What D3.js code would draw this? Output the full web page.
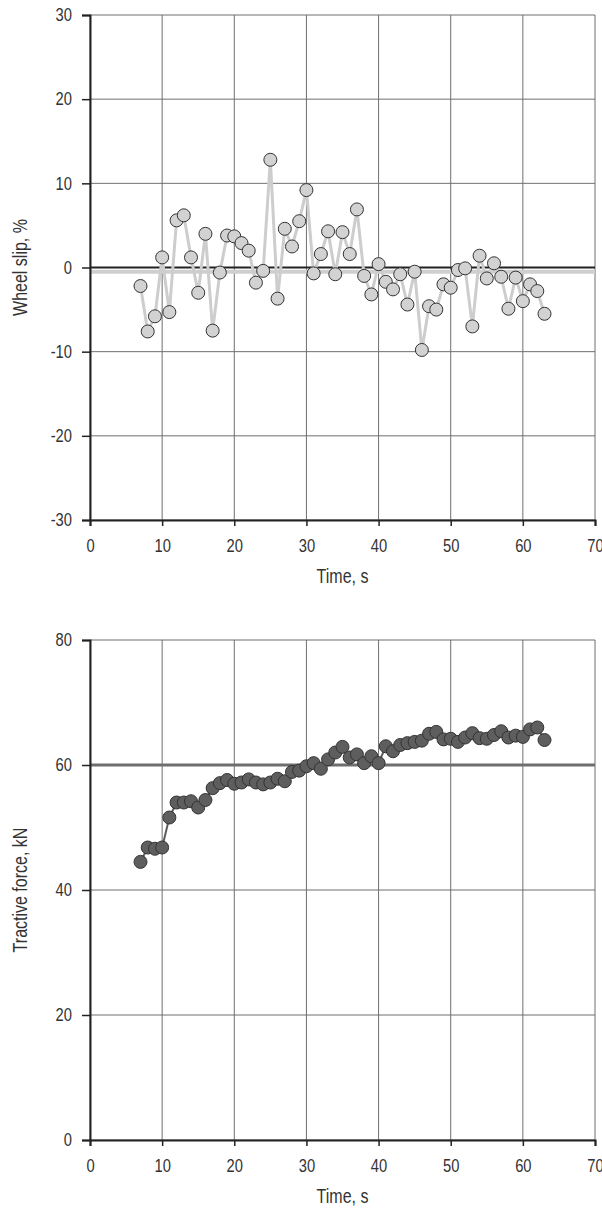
<!DOCTYPE html>
<html>
<head>
<meta charset="utf-8">
<script src="https://cdn.jsdelivr.net/npm/d3@7"></script>
<style>
  body { margin: 0; background: #fff; }
  svg { display: block; font-family: "Liberation Sans", Arial, sans-serif; }
</style>
</head>
<body>
<svg id="chart"></svg>
<script>
// time stamps, s
const time = d3.range(7, 64);

// wheel slip, %
const slip = [
  -2.2, -7.6, -5.8, 1.2, -5.3, 5.6, 6.2, 1.2, -3.0, 4.0,
  -7.5, -0.6, 3.8, 3.7, 2.9, 2.0, -1.8, -0.4, 12.8, -3.7,
  4.6, 2.5, 5.5, 9.2, -0.7, 1.6, 4.3, -0.8, 4.2, 1.6,
  6.9, -1.0, -3.2, 0.4, -1.7, -2.6, -0.8, -4.4, -0.5, -9.8,
  -4.6, -5.0, -2.0, -2.4, -0.3, -0.1, -7.0, 1.4, -1.3, 0.5,
  -1.1, -4.9, -1.2, -4.0, -2.0, -2.8, -5.5
];

// tractive force, kN
const force = [
  44.5, 46.8, 46.6, 46.8, 51.6, 54.0, 54.0, 54.2, 53.2, 54.4,
  56.3, 57.1, 57.6, 57.0, 57.2, 57.7, 57.2, 56.9, 57.2, 57.8,
  57.4, 58.9, 59.1, 59.8, 60.3, 59.4, 60.9, 62.0, 62.9, 61.2,
  61.7, 60.3, 61.4, 60.3, 63.0, 62.2, 63.2, 63.5, 63.7, 63.9,
  65.0, 65.3, 64.1, 64.2, 63.7, 64.4, 65.1, 64.3, 64.2, 64.8,
  65.4, 64.4, 64.7, 64.5, 65.7, 66.0, 64.0
];

const xTicks = [0, 10, 20, 30, 40, 50, 60, 70];
const slipTicks = [-30, -20, -10, 0, 10, 20, 30];
const forceTicks = [0, 20, 40, 60, 80];
const slipMean = -0.5;
const forceRef = 60;

const narrow = 0.82; // the source type is slightly condensed

const svg = d3.select("#chart").attr("width", 602).attr("height", 1210);

function drawPanel(cfg) {
  const left = 90, width = 505;
  const x = d3.scaleLinear().domain([0, 70]).range([left, left + width]);
  const y = d3.scaleLinear().domain(cfg.domain).range([cfg.bottom, cfg.top]);
  const g = svg.append("g");

  // grid
  g.selectAll(".vgrid").data(xTicks).join("line")
    .attr("x1", d => x(d)).attr("x2", d => x(d))
    .attr("y1", cfg.top).attr("y2", cfg.bottom)
    .attr("stroke", "#6f6f6f").attr("stroke-width", 1);
  g.selectAll(".hgrid").data(cfg.ticks).join("line")
    .attr("x1", left).attr("x2", left + width)
    .attr("y1", d => y(d)).attr("y2", d => y(d))
    .attr("stroke", "#6f6f6f").attr("stroke-width", 1);

  cfg.refLines.forEach(r => {
    g.append("line")
      .attr("x1", left).attr("x2", left + width)
      .attr("y1", y(r.v)).attr("y2", y(r.v))
      .attr("stroke", r.color).attr("stroke-width", r.w);
  });

  // axes
  const fmt = d => String(d);
  const xAxis = g.append("g")
    .attr("transform", `translate(0,${cfg.bottom})`)
    .call(d3.axisBottom(x).tickValues(xTicks).tickFormat(fmt).tickSize(6));
  const yAxis = g.append("g")
    .attr("transform", `translate(${left},0)`)
    .call(d3.axisLeft(y).tickValues(cfg.ticks).tickFormat(fmt).tickSize(8));
  [xAxis, yAxis].forEach(a => {
    a.select(".domain").attr("stroke", "#222").attr("stroke-width", 2);
    a.selectAll(".tick line").attr("stroke", "#222").attr("stroke-width", 1.5);
    a.selectAll(".tick text").attr("fill", "#333").attr("font-size", 18)
      .attr("font-family", null);
  });
  xAxis.selectAll(".tick text")
    .attr("y", 0).attr("dy", null)
    .attr("transform", `translate(0,32) scale(${narrow},1)`);
  yAxis.selectAll(".tick text")
    .attr("x", 0)
    .attr("transform", `translate(-18,0) scale(${narrow},1)`);

  // series
  const pts = time.map((t, i) => ({ t, v: cfg.values[i] }));
  g.append("path").datum(pts)
    .attr("fill", "none")
    .attr("stroke", cfg.lineColor)
    .attr("stroke-width", cfg.lineWidth)
    .attr("stroke-linejoin", "round")
    .attr("d", d3.line().x(d => x(d.t)).y(d => y(d.v)));
  g.selectAll(".pt").data(pts).join("circle")
    .attr("cx", d => x(d.t)).attr("cy", d => y(d.v))
    .attr("r", 6.5)
    .attr("fill", cfg.fill)
    .attr("stroke", "#333").attr("stroke-width", 1);

  // titles
  g.append("text")
    .attr("transform", `translate(${left + width / 2},${cfg.bottom + 63}) scale(0.8,1)`)
    .attr("text-anchor", "middle").attr("font-size", 20).attr("fill", "#333")
    .text("Time, s");
  g.append("text")
    .attr("transform", `translate(27,${(cfg.top + cfg.bottom) / 2}) rotate(-90) scale(0.8,1)`)
    .attr("text-anchor", "middle").attr("font-size", 20).attr("fill", "#333")
    .text(cfg.yTitle);
}

drawPanel({
  top: 15, bottom: 520, domain: [-30, 30], ticks: slipTicks, values: slip,
  refLines: [{ v: slipMean, color: "#cfcfcf", w: 4 }, { v: 0, color: "#222", w: 2 }],
  lineColor: "#cdcdcd", lineWidth: 3, fill: "#d2d2d2", yTitle: "Wheel slip, %"
});

drawPanel({
  top: 640, bottom: 1140, domain: [0, 80], ticks: forceTicks, values: force,
  refLines: [{ v: forceRef, color: "#6e6e6e", w: 3 }],
  lineColor: "#5c5c5c", lineWidth: 2, fill: "#5e5e5e", yTitle: "Tractive force, kN"
});
</script>
</body>
</html>
